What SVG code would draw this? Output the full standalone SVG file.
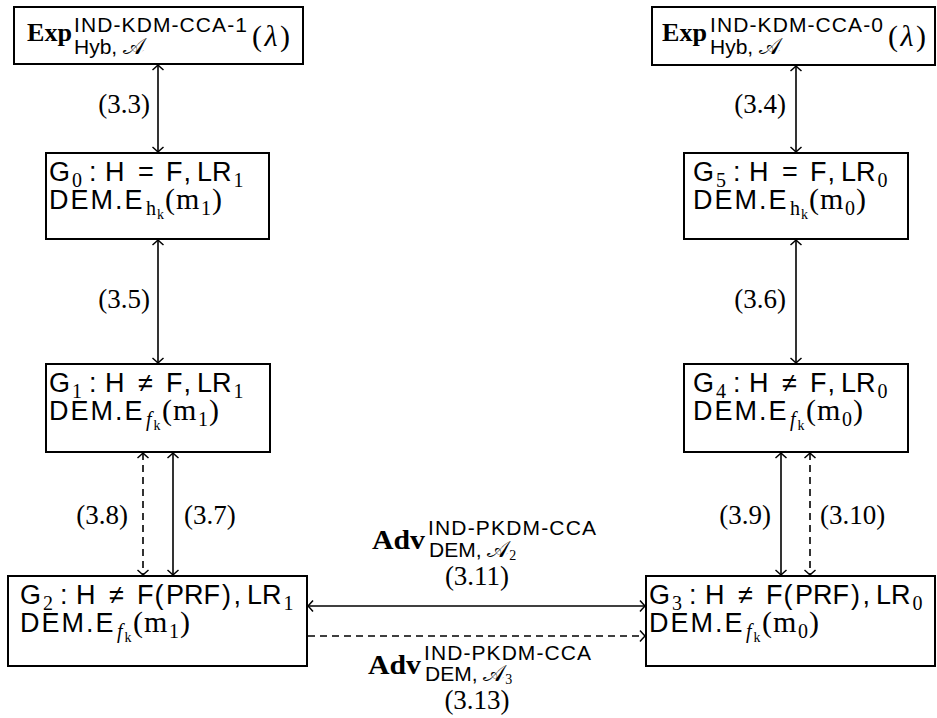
<svg xmlns="http://www.w3.org/2000/svg" width="937" height="718" viewBox="0 0 937 718">
<style>
.box{fill:#fff;stroke:#000;stroke-width:2}
.c{stroke:#000;stroke-width:1.6;fill:none;marker-end:url(#ah)}
.dbl{marker-start:url(#ah)}
.d{stroke-dasharray:7 5}
.sf{font-family:"Liberation Sans","DejaVu Sans",sans-serif;font-size:27px}
.dem{letter-spacing:2px}
.rm{font-family:"Liberation Serif","DejaVu Serif",serif;font-size:30px}
.lab{font-family:"Liberation Serif","DejaVu Serif",serif;font-size:27px}
.it{font-style:italic}
.rs{font-family:"Liberation Serif","DejaVu Serif",serif;font-size:20px}
.rss{font-family:"Liberation Serif","DejaVu Serif",serif;font-size:14px}
.bf{font-family:"Liberation Serif","DejaVu Serif",serif;font-weight:bold}
.sup{font-family:"Liberation Sans","DejaVu Sans",sans-serif;font-size:21px}
.cal{font-family:"DejaVu Serif","DejaVu Sans","Noto Sans",serif;font-size:23px}
text{fill:#000}
</style>
<defs>
<marker id="ah" markerUnits="userSpaceOnUse" viewBox="-8 -8 10 16" markerWidth="10" markerHeight="16" refX="0" refY="0" orient="auto-start-reverse">
<path d="M-5,-5.5 Q-1.5,-1.5 0,0 Q-1.5,1.5 -5,5.5" fill="none" stroke="#000" stroke-width="1.5"/>
</marker>
</defs>

<g id="connectors">
<line class="c dbl" x1="158" y1="65" x2="158" y2="152"/>
<line class="c dbl" x1="796" y1="66" x2="796" y2="152"/>
<line class="c dbl" x1="158" y1="240" x2="158" y2="363"/>
<line class="c dbl" x1="796" y1="240" x2="796" y2="363"/>
<line class="c dbl d" x1="143" y1="453" x2="143" y2="575"/>
<line class="c dbl" x1="173" y1="453" x2="173" y2="575"/>
<line class="c dbl" x1="781" y1="453" x2="781" y2="575"/>
<line class="c dbl d" x1="810" y1="453" x2="810" y2="575"/>
<line class="c dbl" x1="308" y1="606" x2="645" y2="606"/>
<line class="c d" x1="308" y1="636" x2="645" y2="636"/>
<text class="lab" x="150" y="113" text-anchor="end">(3.3)</text>
<text class="lab" x="786" y="113" text-anchor="end">(3.4)</text>
<text class="lab" x="150" y="308" text-anchor="end">(3.5)</text>
<text class="lab" x="786" y="308" text-anchor="end">(3.6)</text>
<text class="lab" x="128" y="524" text-anchor="end">(3.8)</text>
<text class="lab" x="184" y="524">(3.7)</text>
<text class="lab" x="771" y="524" text-anchor="end">(3.9)</text>
<text class="lab" x="820" y="524">(3.10)</text>
<text class="bf" x="372" y="549" style="font-size:28px" textLength="53" lengthAdjust="spacingAndGlyphs">Adv</text>
<text class="sup" x="428" y="535" textLength="168" lengthAdjust="spacing">IND-PKDM-CCA</text>
<text x="429" y="557"><tspan class="sup">DEM, </tspan><tspan class="cal">𝒜</tspan><tspan class="rss" dy="3">2</tspan></text>
<text class="lab" x="477" y="585" text-anchor="middle">(3.11)</text>
<text class="bf" x="368" y="674" style="font-size:28px" textLength="53" lengthAdjust="spacingAndGlyphs">Adv</text>
<text class="sup" x="424" y="660" textLength="167" lengthAdjust="spacing">IND-PKDM-CCA</text>
<text x="425" y="681"><tspan class="sup">DEM, </tspan><tspan class="cal">𝒜</tspan><tspan class="rss" dy="3">3</tspan></text>
<text class="lab" x="477" y="709" text-anchor="middle">(3.13)</text>
</g>

<g id="exp1">
<rect class="box" x="14" y="7" width="289" height="57"/>
<text class="bf" x="27" y="41" style="font-size:25px" textLength="45" lengthAdjust="spacingAndGlyphs">Exp</text>
<text class="sup" x="74" y="32" textLength="173" lengthAdjust="spacing">IND-KDM-CCA-1</text>
<text x="74" y="54"><tspan class="sup">Hyb, </tspan><tspan class="cal">𝒜</tspan></text>
<text class="rm" x="252" y="46" textLength="38" lengthAdjust="spacing">(<tspan class="it">λ</tspan>)</text>
</g>

<g id="exp0">
<rect class="box" x="652" y="7" width="283" height="58"/>
<text class="bf" x="662" y="41" style="font-size:25px" textLength="45" lengthAdjust="spacingAndGlyphs">Exp</text>
<text class="sup" x="710" y="32" textLength="173" lengthAdjust="spacing">IND-KDM-CCA-0</text>
<text x="710" y="54"><tspan class="sup">Hyb, </tspan><tspan class="cal">𝒜</tspan></text>
<text class="rm" x="888" y="46" textLength="38" lengthAdjust="spacing">(<tspan class="it">λ</tspan>)</text>
</g>

<g id="G0">
<rect class="box" x="46" y="153" width="223" height="86"/>
<text class="sf"><tspan x="49" y="181">G</tspan><tspan class="rs" x="72" y="187">0</tspan><tspan x="89" y="181">:</tspan><tspan x="105" y="181">H</tspan><tspan x="138" y="181">=</tspan><tspan x="166" y="181">F</tspan><tspan x="183.5" y="181">,</tspan><tspan x="197" y="181">LR</tspan><tspan class="rs" x="233.5" y="187">1</tspan></text>
<text><tspan class="sf dem" x="49" y="209">DEM.E</tspan><tspan class="rs" x="146" y="215">h</tspan><tspan class="rss" x="157" y="219">k</tspan><tspan class="rm" x="165" y="209">(</tspan><tspan class="rm" x="176" y="209">m</tspan><tspan class="rs" x="201" y="215">1</tspan><tspan class="rm" x="212" y="209">)</tspan></text>
</g>

<g id="G5">
<rect class="box" x="684" y="153" width="224" height="86"/>
<text class="sf"><tspan x="693" y="181">G</tspan><tspan class="rs" x="716" y="187">5</tspan><tspan x="733" y="181">:</tspan><tspan x="749" y="181">H</tspan><tspan x="782" y="181">=</tspan><tspan x="810" y="181">F</tspan><tspan x="827.5" y="181">,</tspan><tspan x="841" y="181">LR</tspan><tspan class="rs" x="877.5" y="187">0</tspan></text>
<text><tspan class="sf dem" x="693" y="209">DEM.E</tspan><tspan class="rs" x="790" y="215">h</tspan><tspan class="rss" x="801" y="219">k</tspan><tspan class="rm" x="809" y="209">(</tspan><tspan class="rm" x="820" y="209">m</tspan><tspan class="rs" x="845" y="215">0</tspan><tspan class="rm" x="856" y="209">)</tspan></text>
</g>

<g id="G1">
<rect class="box" x="46" y="364" width="224" height="88"/>
<text class="sf"><tspan x="49" y="392">G</tspan><tspan class="rs" x="72" y="398">1</tspan><tspan x="89" y="392">:</tspan><tspan x="105" y="392">H</tspan><tspan x="138" y="392">≠</tspan><tspan x="166" y="392">F</tspan><tspan x="183.5" y="392">,</tspan><tspan x="197" y="392">LR</tspan><tspan class="rs" x="233.5" y="398">1</tspan></text>
<text><tspan class="sf dem" x="49" y="420">DEM.E</tspan><tspan class="rs it" x="146" y="426">f</tspan><tspan class="rss" x="153.5" y="430">k</tspan><tspan class="rm" x="162" y="420">(</tspan><tspan class="rm" x="173" y="420">m</tspan><tspan class="rs" x="198" y="426">1</tspan><tspan class="rm" x="209" y="420">)</tspan></text>
</g>

<g id="G4">
<rect class="box" x="684" y="364" width="224" height="88"/>
<text class="sf"><tspan x="693" y="392">G</tspan><tspan class="rs" x="716" y="398">4</tspan><tspan x="733" y="392">:</tspan><tspan x="749" y="392">H</tspan><tspan x="782" y="392">≠</tspan><tspan x="810" y="392">F</tspan><tspan x="827.5" y="392">,</tspan><tspan x="841" y="392">LR</tspan><tspan class="rs" x="877.5" y="398">0</tspan></text>
<text><tspan class="sf dem" x="693" y="420">DEM.E</tspan><tspan class="rs it" x="790" y="426">f</tspan><tspan class="rss" x="797.5" y="430">k</tspan><tspan class="rm" x="806" y="420">(</tspan><tspan class="rm" x="817" y="420">m</tspan><tspan class="rs" x="842" y="426">0</tspan><tspan class="rm" x="853" y="420">)</tspan></text>
</g>

<g id="G2">
<rect class="box" x="8" y="576" width="299" height="90"/>
<text class="sf"><tspan x="20" y="604">G</tspan><tspan class="rs" x="43" y="610">2</tspan><tspan x="60" y="604">:</tspan><tspan x="76" y="604">H</tspan><tspan x="109" y="604">≠</tspan><tspan x="137" y="604">F</tspan><tspan x="154.5" y="604">(</tspan><tspan x="166" y="604">PRF</tspan><tspan x="222" y="604">)</tspan><tspan x="233.5" y="604">,</tspan><tspan x="247" y="604">LR</tspan><tspan class="rs" x="283.5" y="610">1</tspan></text>
<text><tspan class="sf dem" x="20" y="632">DEM.E</tspan><tspan class="rs it" x="117" y="638">f</tspan><tspan class="rss" x="124.5" y="642">k</tspan><tspan class="rm" x="133" y="632">(</tspan><tspan class="rm" x="144" y="632">m</tspan><tspan class="rs" x="169" y="638">1</tspan><tspan class="rm" x="180" y="632">)</tspan></text>
</g>

<g id="G3">
<rect class="box" x="646" y="576" width="289" height="90"/>
<text class="sf"><tspan x="649" y="604">G</tspan><tspan class="rs" x="672" y="610">3</tspan><tspan x="689" y="604">:</tspan><tspan x="705" y="604">H</tspan><tspan x="738" y="604">≠</tspan><tspan x="766" y="604">F</tspan><tspan x="783.5" y="604">(</tspan><tspan x="795" y="604">PRF</tspan><tspan x="851" y="604">)</tspan><tspan x="862.5" y="604">,</tspan><tspan x="876" y="604">LR</tspan><tspan class="rs" x="912.5" y="610">0</tspan></text>
<text><tspan class="sf dem" x="649" y="632">DEM.E</tspan><tspan class="rs it" x="746" y="638">f</tspan><tspan class="rss" x="753.5" y="642">k</tspan><tspan class="rm" x="762" y="632">(</tspan><tspan class="rm" x="773" y="632">m</tspan><tspan class="rs" x="798" y="638">0</tspan><tspan class="rm" x="809" y="632">)</tspan></text>
</g>
</svg>
